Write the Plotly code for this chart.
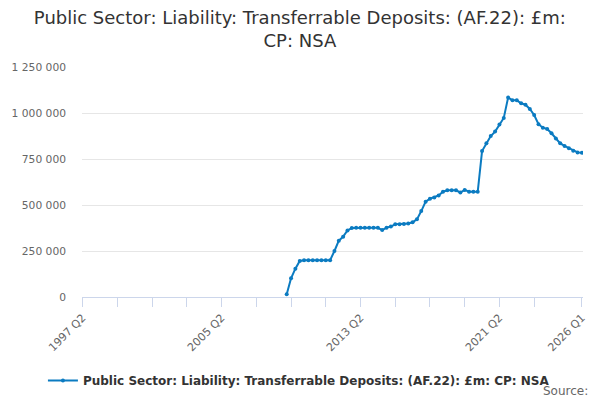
import plotly.graph_objects as go

# quarters from 1997 Q2 to 2026 Q1 (category axis)
quarters = []
for year in range(1997, 2027):
    for q in range(1, 5):
        if (year, q) < (1997, 2) or (year, q) > (2026, 1):
            continue
        quarters.append(f"{year} Q{q}")

# series begins in 2009 Q1, values in £m
first_quarter = "2009 Q1"
deposits = [
    15000, 102000, 154000, 196000, 200000, 200000, 200000, 200000,
    200000, 200000, 200000, 250000, 306000, 328000, 362000, 375000,
    376000, 376000, 376000, 376000, 376000, 376000, 364000, 377000,
    383000, 395000, 396000, 397000, 400000, 406000, 422000, 467000,
    518000, 534000, 541000, 552000, 572000, 580000, 580000, 580000,
    568000, 582000, 572000, 572000, 572000, 793000, 835000, 875000,
    899000, 937000, 973000, 1084000, 1069000, 1069000, 1053000, 1045000,
    1022000, 989000, 939000, 920000, 913000, 890000, 862000, 835000,
    821000, 808000, 795000, 786000, 784000,
]

tick_quarters = ["1997 Q2", "1999 Q2", "2001 Q2", "2003 Q2", "2005 Q2", "2007 Q2",
                 "2009 Q2", "2011 Q2", "2013 Q2", "2015 Q2", "2017 Q2", "2019 Q2",
                 "2021 Q2", "2023 Q2", "2026 Q1"]
labelled = {"1997 Q2", "2005 Q2", "2013 Q2", "2021 Q2", "2026 Q1"}

title = "Public Sector: Liability: Transferrable Deposits: (AF.22): £m:<br>CP: NSA"
series_name = "Public Sector: Liability: Transferrable Deposits: (AF.22): £m: CP: NSA"

start = quarters.index(first_quarter)
y_values = [None] * start + deposits
y_values += [None] * (len(quarters) - len(y_values))

fig = go.Figure()
fig.add_trace(go.Scatter(
    x=quarters, y=y_values, mode="lines+markers", name=f"<b>{series_name}</b>",
    line={"color": "#0b7bc1", "width": 2},
    marker={"color": "#0b7bc1", "size": 4},
    connectgaps=False,
))

# the page body adds an 8px offset, so the figure is 592x392
fig.update_layout(
    width=592, height=392,
    paper_bgcolor="white", plot_bgcolor="white",
    font={"family": "DejaVu Sans", "color": "#666666"},
    separators=". ",
    title={"text": title, "x": 0.493, "xanchor": "center",
           "yref": "container", "y": 0.959, "yanchor": "middle",
           "font": {"size": 18, "color": "#333333"}},
    margin={"l": 74, "r": 17, "t": 59, "b": 103, "autoexpand": False},
    showlegend=True,
    legend={"orientation": "h", "x": 0.433, "xanchor": "center", "y": -0.3, "yanchor": "top",
            "font": {"size": 12, "color": "#333333"}},
    xaxis={
        "type": "category", "range": [-0.15, 115.25], "automargin": False,
        "tickvals": tick_quarters,
        "ticktext": [q if q in labelled else "" for q in tick_quarters],
        "tickangle": -45, "ticks": "outside", "ticklen": 9, "tickcolor": "#ccd6eb",
        "showline": True, "linecolor": "#ccd6eb", "showgrid": False,
        "tickfont": {"size": 11, "color": "#666666"},
    },
    yaxis={
        "range": [0, 1250000], "dtick": 250000, "tickformat": ",d", "automargin": False,
        "showgrid": True, "gridcolor": "#e6e6e6", "zeroline": False,
        "tickfont": {"size": 10.7, "color": "#666666"}, "ticklabelstandoff": 15,
    },
)

fig.add_annotation(text="Source:", xref="paper", yref="paper", x=1.013, y=-0.37,
                   xanchor="right", yanchor="top", showarrow=False,
                   font={"size": 12, "color": "#666666"})

fig.write_html("out.html")
